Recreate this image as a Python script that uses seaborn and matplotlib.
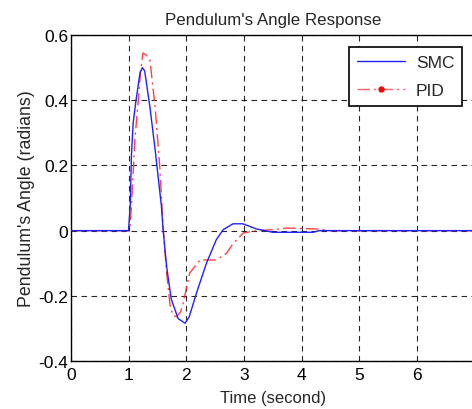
import matplotlib
matplotlib.use("Agg")
import matplotlib.pyplot as plt
import seaborn as sns
import pandas as pd
from matplotlib.lines import Line2D

sns.set_style("white")
plt.rcParams['font.family'] = ['Liberation Sans', 'DejaVu Sans']

smc_t = [0, 1.0, 1.03, 1.05, 1.08, 1.13, 1.20, 1.24, 1.28, 1.37, 1.46, 1.57, 1.60, 1.66, 1.74, 1.86,
         1.98, 2.05, 2.18, 2.35, 2.52, 2.64, 2.81, 2.98, 3.22, 3.5, 4.2, 4.3, 7.0]
smc_y = [0, 0, 0.08, 0.23, 0.33, 0.40, 0.485, 0.50, 0.49, 0.38, 0.25, 0.075, 0.0, -0.11, -0.21, -0.27,
         -0.284, -0.265, -0.19, -0.10, -0.028, 0.003, 0.021, 0.021, 0.005, -0.005, -0.005, 0, 0]

pid_t = [0, 1.0, 1.03, 1.05, 1.11, 1.17, 1.21, 1.25, 1.30, 1.37, 1.46, 1.54, 1.60, 1.66, 1.72, 1.77,
         1.83, 1.90, 1.95, 2.06, 2.24, 2.52, 2.70, 2.81, 2.99, 3.22, 3.5, 3.74, 4.3, 4.5, 7.0]
pid_y = [0, 0, 0.02, 0.075, 0.28, 0.40, 0.49, 0.545, 0.54, 0.525, 0.38, 0.20, 0.01, -0.13, -0.23, -0.26,
         -0.264, -0.25, -0.22, -0.13, -0.09, -0.09, -0.069, -0.04, -0.007, 0.0, 0.003, 0.008, 0.005, 0, 0]

x_ticks = [0, 1, 2, 3, 4, 5, 6]
y_ticks = [-0.4, -0.2, 0, 0.2, 0.4, 0.6]
y_labels = ["-0.4", "-0.2", "0", "0.2", "0.4", "0.6"]

smc = pd.DataFrame({"t": smc_t, "y": smc_y})
pid = pd.DataFrame({"t": pid_t, "y": pid_y})

fig = plt.figure(figsize=(4.72, 4.10), dpi=100)
ax = fig.add_axes([0.150, 0.117, 0.856, 0.795])

sns.lineplot(data=smc, x="t", y="y", ax=ax, color="#2020ff", lw=1.0, sort=False, zorder=3)
sns.lineplot(data=pid, x="t", y="y", ax=ax, color="#ff2020", lw=1.0, alpha=0.85, sort=False,
             linestyle=(0, (9, 3, 1.5, 3)), zorder=2)

ax.set_xlim(0, 7)
ax.set_ylim(-0.4, 0.6)
ax.set_xticks(x_ticks)
ax.set_yticks(y_ticks)
ax.set_yticklabels(y_labels)
ax.tick_params(labelsize=12.5, direction="in", length=4, colors="black", pad=2)
ax.tick_params(axis="x", pad=4)
ax.grid(True, color="black", linestyle=(0, (5, 4)), lw=0.8, alpha=0.85)
for s in ax.spines.values():
    s.set_color("black")
    s.set_linewidth(1.0)

ax.set_title("Pendulum's Angle Response", fontsize=12.2, pad=8)
ax.set_xlabel("Time (second)", fontsize=12, labelpad=6)
ax.set_ylabel("Pendulum's Angle (radians)", fontsize=12.8, labelpad=2)

handles = [Line2D([], [], color="#2020ff", lw=1.0),
           Line2D([], [], color="#ff6060", lw=1.0, linestyle=(0, (9, 3, 1.5, 3)),
                  marker=".", markersize=7, markerfacecolor="red", markeredgecolor="red", markevery=[1]),
           ]
handles[1].set_data([0, 0.5, 1], [0, 0, 0])
leg = ax.legend(handles, ["SMC", "PID"], loc="upper right", bbox_to_anchor=(0.99, 0.99),
                fontsize=12.5, frameon=True, fancybox=False, edgecolor="black", framealpha=1,
                handlelength=2.8, borderpad=0.45, labelspacing=0.75, handletextpad=0.6)
leg.get_frame().set_linewidth(1.2)

fig.savefig("out.png", dpi=100)
